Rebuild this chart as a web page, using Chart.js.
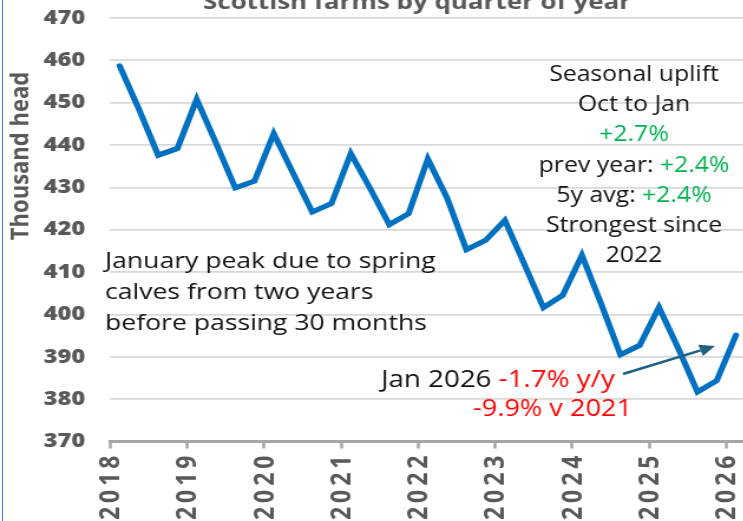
<!DOCTYPE html>
<html><head><meta charset="utf-8">
<script src="https://cdn.jsdelivr.net/npm/chart.js@4/dist/chart.umd.min.js"></script>
<style>
html,body{margin:0;padding:0;background:#fff;overflow:hidden;width:743px;height:521px;position:relative;}
#wrap{position:absolute;left:0;top:-8px;width:650px;height:540px;transform:scaleX(1.18);transform-origin:0 0;}
#edge{position:absolute;left:2px;top:0;width:1px;height:521px;background:#4a78c8;}
</style></head><body>
<div id="wrap"><canvas id="c" width="650" height="540"></canvas></div>
<div id="edge"></div>
<script>
// ---- data ----
const chartTitle = 'Scottish farms by quarter of year';
const yAxisTitle = 'Thousand head';
const startYear = 2018;
const quarterNames = ['Jan', 'Apr', 'Jul', 'Oct'];
const headValues = [
  458.7, 448.5, 437.6, 439.2,
  450.8, 440.5, 429.9, 431.5,
  442.7, 433.4, 424.2, 426.2,
  438.0, 429.8, 421.2, 423.8,
  436.7, 427.5, 415.3, 417.5,
  422.2, 412.0, 401.6, 404.5,
  414.0, 402.5, 390.5, 392.7,
  401.7, 392.0, 381.7, 384.4,
  395.1
];
const yearTicks = [2018, 2019, 2020, 2021, 2022, 2023, 2024, 2025, 2026];
const yMin = 370, yMax = 470, yStep = 10;
const quarterLabels = headValues.map((v, i) => quarterNames[i % 4] + ' ' + (startYear + Math.floor(i / 4)));

const noteRight = [
  [['Seasonal uplift', 'k']],
  [['Oct to Jan', 'k']],
  [['+2.7%', 'g']],
  [['prev year: ', 'k'], ['+2.4%', 'g']],
  [['5y avg: ', 'k'], ['+2.4%', 'g']],
  [['Strongest since', 'k']],
  [['2022', 'k']]
];
const noteLeft = ['January peak due to spring', 'calves from two years', 'before passing 30 months'];
const noteJan1 = [['Jan 2026 ', 'k'], ['-1.7% y/y', 'r']];
const noteJan2 = [['-9.9% v 2021', 'r']];

// ---- layout helpers ----
const SX = 1.18, OFF = 8, CW = 650, CH = 540;
const V = (x, y) => [x / SX, y + OFF];
const COLORS = { k: '#111111', g: '#00B050', r: '#FF0000' };

function drawRuns(ctx, parts, x, y, align) {
  const total = parts.reduce((w, p) => w + ctx.measureText(p[0]).width, 0);
  let cx = align === 'center' ? x - total / 2 : x;
  ctx.textAlign = 'left';
  for (const [t, c] of parts) {
    ctx.fillStyle = COLORS[c];
    ctx.fillText(t, cx, y);
    cx += ctx.measureText(t).width;
  }
}

const annot = {
  id: 'annot',
  afterDraw(chart) {
    const ctx = chart.ctx;
    ctx.save();
    ctx.textBaseline = 'middle';
    // title (partially cropped at top)
    ctx.font = 'bold 22px "Open Sans"';
    ctx.fillStyle = '#595959';
    ctx.textAlign = 'center';
    let p = V(417, 3);
    ctx.fillText(chartTitle, p[0], p[1]);
    // y axis title
    ctx.save();
    p = V(21, 156);
    ctx.translate(p[0], p[1]);
    ctx.rotate(-Math.PI / 2);
    ctx.font = 'bold 22px "Open Sans"';
    ctx.fillStyle = '#595959';
    ctx.textAlign = 'center';
    ctx.fillText(yAxisTitle, 0, 0);
    ctx.restore();
    // x axis year labels (rotated, spaced)
    const xs = chart.scales.x;
    ctx.save();
    ctx.font = 'bold 23px "Open Sans"';
    ctx.fillStyle = '#595959';
    ctx.letterSpacing = '4px';
    yearTicks.forEach(yr => {
      const px = xs.getPixelForValue(yr) + 1.5 / SX;
      const py = chart.chartArea.bottom + 14;
      ctx.save();
      ctx.translate(px, py);
      ctx.rotate(-Math.PI / 2);
      ctx.textAlign = 'right';
      ctx.textBaseline = 'middle';
      ctx.fillText(String(yr), 4, 0);
      ctx.restore();
    });
    ctx.restore();
    // right note block
    ctx.font = '21px "Open Sans"';
    noteRight.forEach((line, i) => {
      const q = V(634, 75 + i * 30.2);
      drawRuns(ctx, line, q[0], q[1], 'center');
    });
    // left note
    ctx.font = '22.5px "Open Sans"';
    noteLeft.forEach((t, i) => {
      const q = V(105, 262 + i * 31);
      drawRuns(ctx, [[t, 'k']], q[0], q[1], 'left');
    });
    // Jan 2026 note
    ctx.font = '23.5px "Open Sans"';
    let q = V(381, 380);
    drawRuns(ctx, noteJan1, q[0], q[1], 'left');
    ctx.font = '23px "Open Sans"';
    q = V(473, 409);
    drawRuns(ctx, noteJan2, q[0], q[1], 'left');
    // arrow
    const a = V(623, 374), b = V(715, 346);
    ctx.strokeStyle = '#1f5f80';
    ctx.fillStyle = '#1f5f80';
    ctx.lineWidth = 2.4;
    const ang = Math.atan2(b[1] - a[1], b[0] - a[0]);
    const hl = 13, hw = 6;
    const bx = b[0] - hl * Math.cos(ang), by = b[1] - hl * Math.sin(ang);
    ctx.beginPath();
    ctx.moveTo(a[0], a[1]);
    ctx.lineTo(bx, by);
    ctx.stroke();
    ctx.beginPath();
    ctx.moveTo(b[0], b[1]);
    ctx.lineTo(bx + hw * Math.sin(ang), by - hw * Math.cos(ang));
    ctx.lineTo(bx - hw * Math.sin(ang), by + hw * Math.cos(ang));
    ctx.closePath();
    ctx.fill();
    ctx.restore();
  }
};

new Chart(document.getElementById('c'), {
  type: 'line',
  data: {
    labels: quarterLabels,
    datasets: [{
      label: yAxisTitle,
      data: headValues.map((v, i) => ({ x: startYear + (i + 0.5) / 4, y: v })),
      borderColor: '#0070C0',
      borderWidth: 5.2,
      pointRadius: 0,
      tension: 0,
      borderCapStyle: 'round',
      borderJoinStyle: 'miter',
      fill: false
    }]
  },
  options: {
    responsive: false,
    animation: false,
    devicePixelRatio: 1,
    layout: { padding: { left: 0, right: CW - 745.6 / SX, top: 18 + OFF, bottom: 0 } },
    plugins: {
      legend: { display: false },
      tooltip: { enabled: false },
      title: { display: false }
    },
    scales: {
      x: {
        type: 'linear',
        min: startYear,
        max: startYear + headValues.length / 4,
        afterBuildTicks: s => { s.ticks = yearTicks.map(v => ({ value: v })); },
        afterFit: s => {
          s.height = CH - (441.5 + OFF);
          s.paddingLeft = 0; s.paddingRight = 0;
        },
        ticks: { display: false },
        grid: {
          drawOnChartArea: false,
          drawTicks: true,
          tickLength: 7,
          tickColor: '#A6A6A6',
          tickWidth: 2.5,
          color: '#A6A6A6'
        },
        border: { display: true, color: '#A6A6A6', width: 3 }
      },
      y: {
        min: yMin,
        max: yMax,
        afterFit: s => {
          s.width = 110 / SX;
          s.paddingTop = 0; s.paddingBottom = 0;
        },
        ticks: {
          stepSize: yStep,
          padding: 21,
          color: '#595959',
          font: { family: '"Open Sans"', size: 20, weight: 800 }
        },
        grid: { color: '#D9D9D9', lineWidth: 1.8, drawTicks: false },
        border: { display: false }
      }
    }
  },
  plugins: [annot]
});
</script>
</body></html>
